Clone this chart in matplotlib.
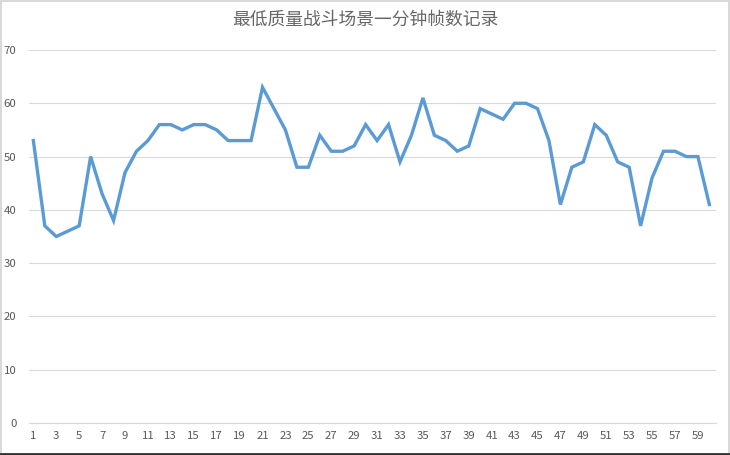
import matplotlib
matplotlib.use("Agg")
import matplotlib.pyplot as plt
from matplotlib.lines import Line2D

# Daten
seconds = list(range(1, 61))
fps = [53, 37, 35, 36, 37, 50, 43, 38, 47, 51,
       53, 56, 56, 55, 56, 56, 55, 53, 53, 53,
       63, 59, 55, 48, 48, 54, 51, 51, 52, 56,
       53, 56, 49, 54, 61, 54, 53, 51, 52, 59,
       58, 57, 60, 60, 59, 53, 41, 48, 49, 56,
       54, 49, 48, 37, 46, 51, 51, 50, 50, 41]
xticks = list(range(1, 60, 2))
yticks = list(range(0, 71, 10))
title = "最低质量战斗场景一分钟帧数记录"

plt.rcParams['font.family'] = ['Noto Sans CJK SC', 'DejaVu Sans']

fig = plt.figure(figsize=(7.3, 4.55), dpi=100)
ax = fig.add_axes([29 / 730, 32 / 455, 687 / 730, 373 / 455])

ax.plot(seconds, fps, color='#5B9BD5', linewidth=2.4,
        solid_joinstyle='miter', zorder=3)

ax.set_xlim(0.62, 60.58)
ax.set_ylim(0, 70)
ax.set_xticks(xticks)
ax.set_yticks(yticks)
ax.grid(axis='y', color='#D9D9D9', linewidth=0.8)
ax.set_axisbelow(True)
for side in ['left', 'right', 'top']:
    ax.spines[side].set_visible(False)
ax.spines['bottom'].set_color('#D9D9D9')
ax.spines['bottom'].set_linewidth(0.8)
ax.tick_params(axis='both', length=0, labelsize=8.2, colors='#595959')
ax.tick_params(axis='y', pad=9)
ax.tick_params(axis='x', pad=6)

fig.text(0.5, 1 - 20 / 455, title, ha='center', va='center',
         fontsize=12.8, color='#666666')

# Rahmen
fig.patch.set_edgecolor('#D9D9D9')
fig.patch.set_linewidth(1.5)
fig.add_artist(Line2D([0, 1], [1.5 / 455, 1.5 / 455], color='#333333',
                      linewidth=2, transform=fig.transFigure))

fig.savefig('out.png', dpi=100, facecolor='white', edgecolor='#D9D9D9')
